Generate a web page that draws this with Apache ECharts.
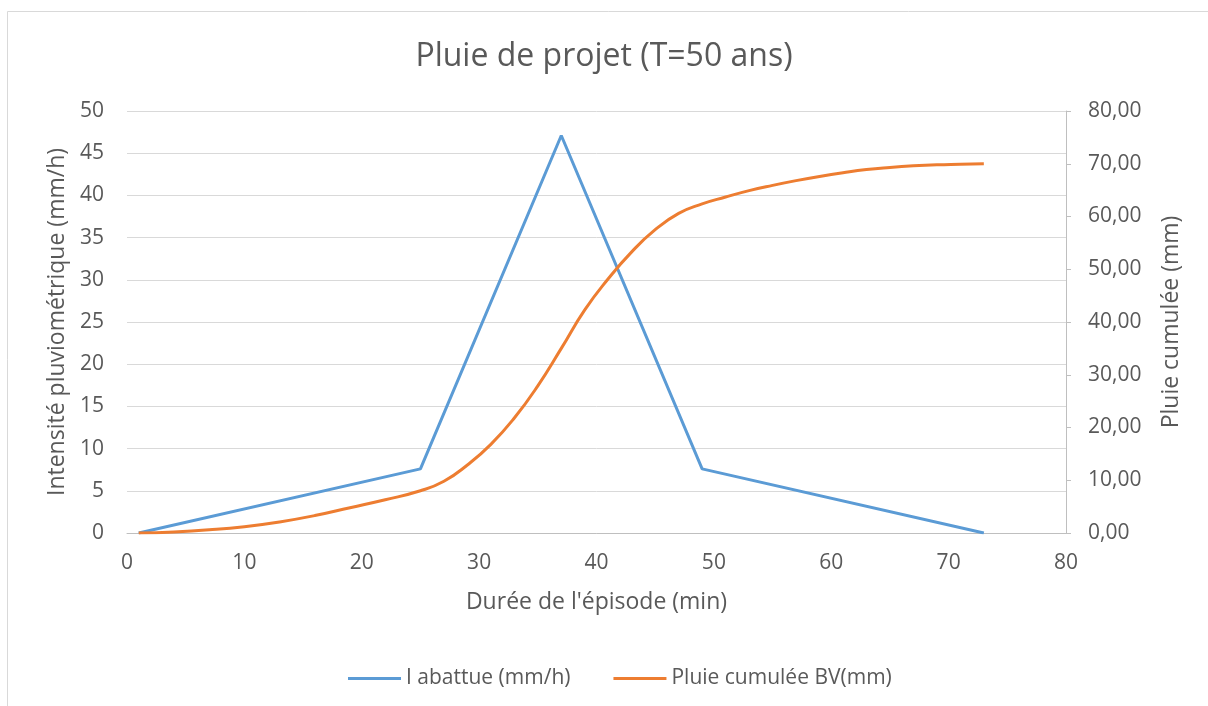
<!DOCTYPE html>
<html>
<head>
<meta charset="utf-8">
<script src="https://cdn.jsdelivr.net/npm/echarts@6/dist/echarts.min.js"></script>
<style>
  html, body { margin: 0; padding: 0; background: #fff; }
  #chart { width: 1208px; height: 706px; }
</style>
</head>
<body>
<div id="chart"></div>
<script>
// données
var dureeI = [1, 25, 37, 49, 73];
var intensite = [0, 7.6, 47.1, 7.6, 0];

var dureeP = [1, 4, 7, 10, 13, 16, 19, 22, 25, 27, 29, 31, 33, 35, 37, 39, 41, 43, 45, 47,
              49, 51, 53, 55, 57, 59, 61, 63, 65, 67, 69, 71, 73];
var pluieCumulee = [0, 0.2, 0.6, 1.2, 2.1, 3.3, 4.8, 6.3, 8.0, 9.8, 12.9, 16.8, 21.8, 27.9, 35.0, 42.3, 48.2, 53.3, 57.5, 60.6,
                    62.4, 63.7, 64.9, 65.9, 66.8, 67.6, 68.3, 68.9, 69.3, 69.6, 69.8, 69.9, 70.0];

var chart = echarts.init(document.getElementById('chart'));

var police = '"Open Sans", "Liberation Sans", sans-serif';
var gris = '#595959';

var option = {
    backgroundColor: '#fff',
    textStyle: { fontFamily: police },
    title: {
        text: 'Pluie de projet (T=50 ans)',
        left: 'center',
        top: 36,
        textStyle: { fontSize: 32, fontWeight: 'normal', color: gris, fontFamily: police }
    },
    legend: {
        bottom: 12,
        left: 343,
        itemWidth: 53,
        itemHeight: 3,
        itemGap: 43,
        textStyle: { fontSize: 21, color: gris },
        data: [
            { name: 'I abattue (mm/h)', icon: 'rect' },
            { name: 'Pluie cumulée BV(mm)', icon: 'rect' }
        ]
    },
    graphic: [{
        type: 'rect',
        shape: { x: 7.5, y: 11.5, width: 1400, height: 900 },
        style: { fill: 'none', stroke: '#d9d9d9', lineWidth: 1 },
        silent: true
    }],
    grid: { left: 127, right: 142, top: 111, bottom: 173 },
    xAxis: {
        type: 'value',
        min: 0, max: 80, interval: 10,
        name: "Durée de l'épisode (min)",
        nameLocation: 'middle',
        nameGap: 58,
        nameTextStyle: { fontSize: 23, color: gris },
        axisLine: { lineStyle: { color: '#bfbfbf', width: 1 } },
        axisTick: { show: false },
        axisLabel: { fontSize: 21, color: gris, margin: 20 },
        splitLine: { show: false }
    },
    yAxis: [{
        type: 'value',
        min: 0, max: 50, interval: 5,
        name: 'Intensité pluviométrique (mm/h)',
        nameLocation: 'middle',
        nameGap: 57,
        nameTextStyle: { fontSize: 23, color: gris },
        axisLine: { show: false },
        axisTick: { show: false },
        axisLabel: { fontSize: 21, color: gris, margin: 23 },
        splitLine: { lineStyle: { color: '#d9d9d9', width: 1 } }
    }, {
        type: 'value',
        position: 'right',
        min: 0, max: 80, interval: 10,
        name: 'Pluie cumulée (mm)',
        nameLocation: 'middle',
        nameGap: 94,
        nameRotate: 90,
        nameTextStyle: { fontSize: 23, color: gris },
        axisLine: { show: true, lineStyle: { color: '#bfbfbf', width: 1 } },
        axisTick: { show: true, length: 5, lineStyle: { color: '#bfbfbf' } },
        axisLabel: {
            fontSize: 21, color: gris, margin: 22,
            formatter: function (v) { return v.toFixed(2).replace('.', ','); }
        },
        splitLine: { show: false }
    }],
    series: [{
        name: 'I abattue (mm/h)',
        type: 'line',
        yAxisIndex: 0,
        showSymbol: false,
        symbol: 'none',
        lineStyle: { color: '#5B9BD5', width: 3 },
        itemStyle: { color: '#5B9BD5' },
        data: dureeI.map(function (x, i) { return [x, intensite[i]]; })
    }, {
        name: 'Pluie cumulée BV(mm)',
        type: 'line',
        yAxisIndex: 1,
        smooth: 0.5,
        showSymbol: false,
        symbol: 'none',
        lineStyle: { color: '#ED7D31', width: 3 },
        itemStyle: { color: '#ED7D31' },
        data: dureeP.map(function (x, i) { return [x, pluieCumulee[i]]; })
    }]
};

chart.setOption(option);
</script>
</body>
</html>
